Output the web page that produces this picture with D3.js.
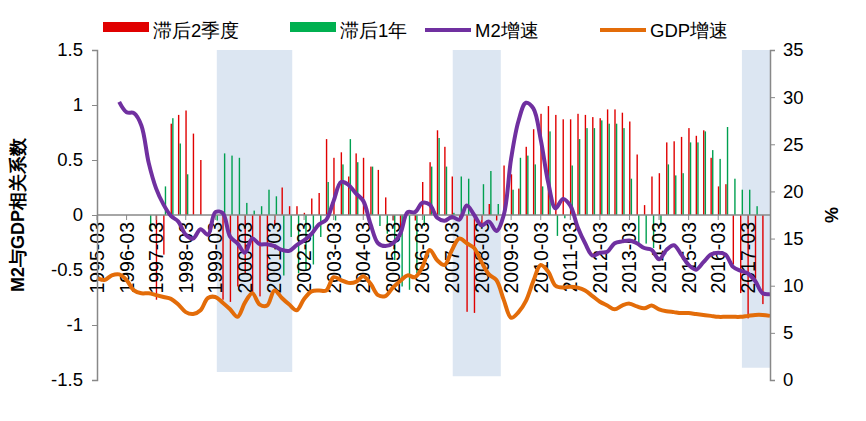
<!DOCTYPE html>
<html><head><meta charset="utf-8">
<script src="https://cdn.jsdelivr.net/npm/d3@7/dist/d3.min.js"></script>
<style>body{margin:0;background:#fff}text{font-family:"Liberation Sans",Arial,sans-serif}</style>
</head><body><svg id="c" width="866" height="421"></svg>
<script>
const startYear = 1995, nQuarters = 92;
const tickLabels = d3.range(1995, 2018).map(y => y + "-03");
// correlation, lagged 2 quarters (red) and 1 year (green); index = quarter from 1995-03
const lag2Q = [null,null,null,null,null,null,null,null,-0.77,-0.36,0.83,0.91,0.95,0.74,0.5,null,null,-0.77,-0.79,-0.65,-0.53,-0.7,-0.74,-0.6,-0.1,0.25,0.08,0.08,0.02,0.15,0.2,0.69,0.52,0.57,0.35,0.56,0.52,0.44,0.41,0.16,-0.05,-0.2,0.02,-0.05,0.3,0.48,0.77,0.62,0.35,-0.05,-0.88,-0.89,-0.1,0.1,-0.05,0.45,0.37,0.24,0.62,0.78,0.92,0.99,0.91,0.87,0.87,0.92,0.91,0.89,0.88,0.96,0.96,0.93,0.85,0.55,0.09,0.35,0.38,0.66,0.67,0.71,0.79,0.72,0.77,0.52,0.26,0.28,-0.45,-0.71,-0.94,-0.6,-0.81,null];
const lag1Y = [null,null,null,null,null,null,null,-0.14,null,0.26,0.88,0.65,0.37,null,null,null,-0.05,0.56,0.54,0.52,0.11,0.04,0.08,0.23,0.17,-0.55,-0.2,-0.53,-0.5,-0.45,-0.2,0.3,-0.05,0.46,0.69,0.48,0.0,0.44,-0.1,-0.17,-0.41,-0.65,-0.68,-0.53,-0.1,0.44,0.7,0.44,0.02,0.35,0.33,-0.02,0.28,0.4,0.1,0.0,0.23,0.52,0.54,0.46,0.26,0.76,-0.19,-0.03,0.45,0.69,0.79,0.79,0.86,0.83,0.83,0.79,0.33,-0.26,-0.26,-0.3,-0.1,0.46,0.36,0.38,0.66,0.66,0.76,0.59,0.51,0.8,0.33,0.23,0.23,0.08,0.0,null];
// M2 growth and GDP growth (%), right axis
const m2Growth = [null,null,null,29.5,28.4,28.3,27.0,23,20.3,18.6,17.4,16.8,15.4,15.0,16.0,15.4,17.8,17.7,15.2,14.5,13.5,15.0,14.4,14.4,14.2,13.8,13.7,14.3,14.8,15.5,16.5,17.0,19.0,21.0,20.7,19.8,19.0,16.5,14.5,14.2,14.5,15.5,17.8,17.8,18.8,18.6,17.2,16.9,17.3,17.0,18.5,17.5,16.4,16.8,15.8,17.5,23.5,27.5,29.4,28.8,25.5,21,18.2,19.2,18.5,16.2,14.5,13.2,13.5,13.6,14.5,14.7,14.8,14.5,14.0,13.8,12.8,13.8,14.3,13.3,12.2,11.7,12.5,13.3,13.5,13.3,12.0,11.6,11.3,10.5,9.2,9.1];
const gdpGrowth = [10.8,10.6,11.1,11.2,10.6,9.5,9.2,9.2,9.0,8.8,8.6,8.0,7.2,7.0,7.4,8.7,8.8,8.2,7.5,6.7,8.2,9.2,8.0,7.9,9.5,8.7,8.0,7.4,8.6,9.4,9.5,9.5,10.9,10.6,10.3,10.4,11.0,10.2,9.0,8.9,9.8,10.5,11.1,10.9,12.0,13.8,12.7,12.2,13.8,15.0,14.5,14.0,12.5,11.2,10.6,8.5,6.6,7.2,8.4,10.5,12.2,11.5,10.0,9.8,9.9,9.8,9.5,8.9,8.3,7.9,7.5,7.9,8.1,7.8,7.6,7.9,7.5,7.3,7.2,7.1,7.1,7.0,6.9,6.8,6.7,6.7,6.7,6.7,6.8,6.9,6.9,6.8];
// shaded periods: [start quarter, end quarter, bottom (%)]
const bands = [[16.2,26.4,0.85],[48.1,54.6,0.4],[87.2,91,1.3]];
const leftTicks = [-1.5,-1,-0.5,0,0.5,1,1.5];
const rightTicks = [0,5,10,15,20,25,30,35];

const svg = d3.select("#c");
const L = 97, R = 770, T = 50, B = 380;
const x = d3.scaleLinear().domain([0, nQuarters-1]).range([L, R]);
const yL = d3.scaleLinear().domain([-1.5,1.5]).range([B, T]);
const yR = d3.scaleLinear().domain([0,35]).range([B, T]);

svg.selectAll(".band").data(bands).join("rect")
  .attr("x", d => x(d[0])).attr("width", d => x(d[1]) - x(d[0]))
  .attr("y", T).attr("height", d => yR(d[2]) - T).attr("fill", "#dce6f2");

function bars(data, color, dx){
  svg.append("g").selectAll("rect").data(data.map((v,i)=>[i,v]).filter(d=>d[1]!==null && d[1]!==0)).join("rect")
    .attr("x", d => x(d[0]) + dx).attr("width", 1.4)
    .attr("y", d => Math.min(yL(d[1]), yL(0))).attr("height", d => Math.abs(yL(d[1]) - yL(0)))
    .attr("fill", color);
}
bars(lag2Q, "#e00000", -0.4);
bars(lag1Y, "#00a050", 1.2);

svg.append("line").attr("x1", L).attr("x2", R).attr("y1", yL(0)).attr("y2", yL(0)).attr("stroke", "#888").attr("stroke-width", 1.5);
svg.append("g").selectAll("line").data(tickLabels).join("line")
  .attr("x1", (d,i)=>x(i*4)).attr("x2",(d,i)=>x(i*4)).attr("y1", yL(0)).attr("y2", yL(0)+5).attr("stroke","#888");
svg.append("g").selectAll("text").data(tickLabels).join("text")
  .attr("transform", (d,i)=>`translate(${x(i*4)+7},${yL(0)+7}) rotate(-90)`)
  .attr("text-anchor","end").attr("font-size",19.5).attr("fill","#000").text(d=>d);

const line = (arr, sc) => d3.line().defined(d=>d[1]!==null).x(d=>x(d[0])).y(d=>sc(d[1])).curve(d3.curveCatmullRom)(arr.map((v,i)=>[i,v]));
svg.append("path").attr("d", line(gdpGrowth, yR)).attr("fill","none").attr("stroke","#e36c09").attr("stroke-width",4);
svg.append("path").attr("d", line(m2Growth, yR)).attr("fill","none").attr("stroke","#7030a0").attr("stroke-width",4);

const la = svg.append("g").attr("transform",`translate(${L},0)`).call(d3.axisLeft(yL).tickValues(leftTicks).tickSize(5).tickFormat(d => String(d)));
const ra = svg.append("g").attr("transform",`translate(${R},0)`).call(d3.axisRight(yR).tickValues(rightTicks).tickSize(5));
[la,ra].forEach(a=>{a.select(".domain").attr("stroke","#888").attr("stroke-width",1.5);a.selectAll("line").attr("stroke","#888");a.selectAll("text").attr("font-size",18.5).attr("font-family","Liberation Sans, Arial, sans-serif").attr("fill","#000");});
la.selectAll("text").attr("x",-14);
ra.selectAll("text").attr("x",13);

svg.append("text").attr("transform","translate(24,215) rotate(-90)").attr("text-anchor","middle").attr("font-size",18).attr("font-weight","bold").text("M2与GDP相关系数");
svg.append("text").attr("transform","translate(838,215) rotate(-90)").attr("text-anchor","middle").attr("font-size",18).attr("font-weight","bold").text("%");

const legend = [["滞后2季度","#e00000","rect",103],["滞后1年","#00b050","rect",290],["M2增速","#7030a0","line",425],["GDP增速","#e36c09","line",600]];
legend.forEach(([t,c,k,lx])=>{
  if(k==="rect") svg.append("rect").attr("x",lx).attr("y",22).attr("width",46).attr("height",10).attr("fill",c);
  else svg.append("line").attr("x1",lx).attr("x2",lx+46).attr("y1",30).attr("y2",30).attr("stroke",c).attr("stroke-width",4);
  svg.append("text").attr("x",lx+50).attr("y",37).attr("font-size",18.5).text(t);
});
</script></body></html>
